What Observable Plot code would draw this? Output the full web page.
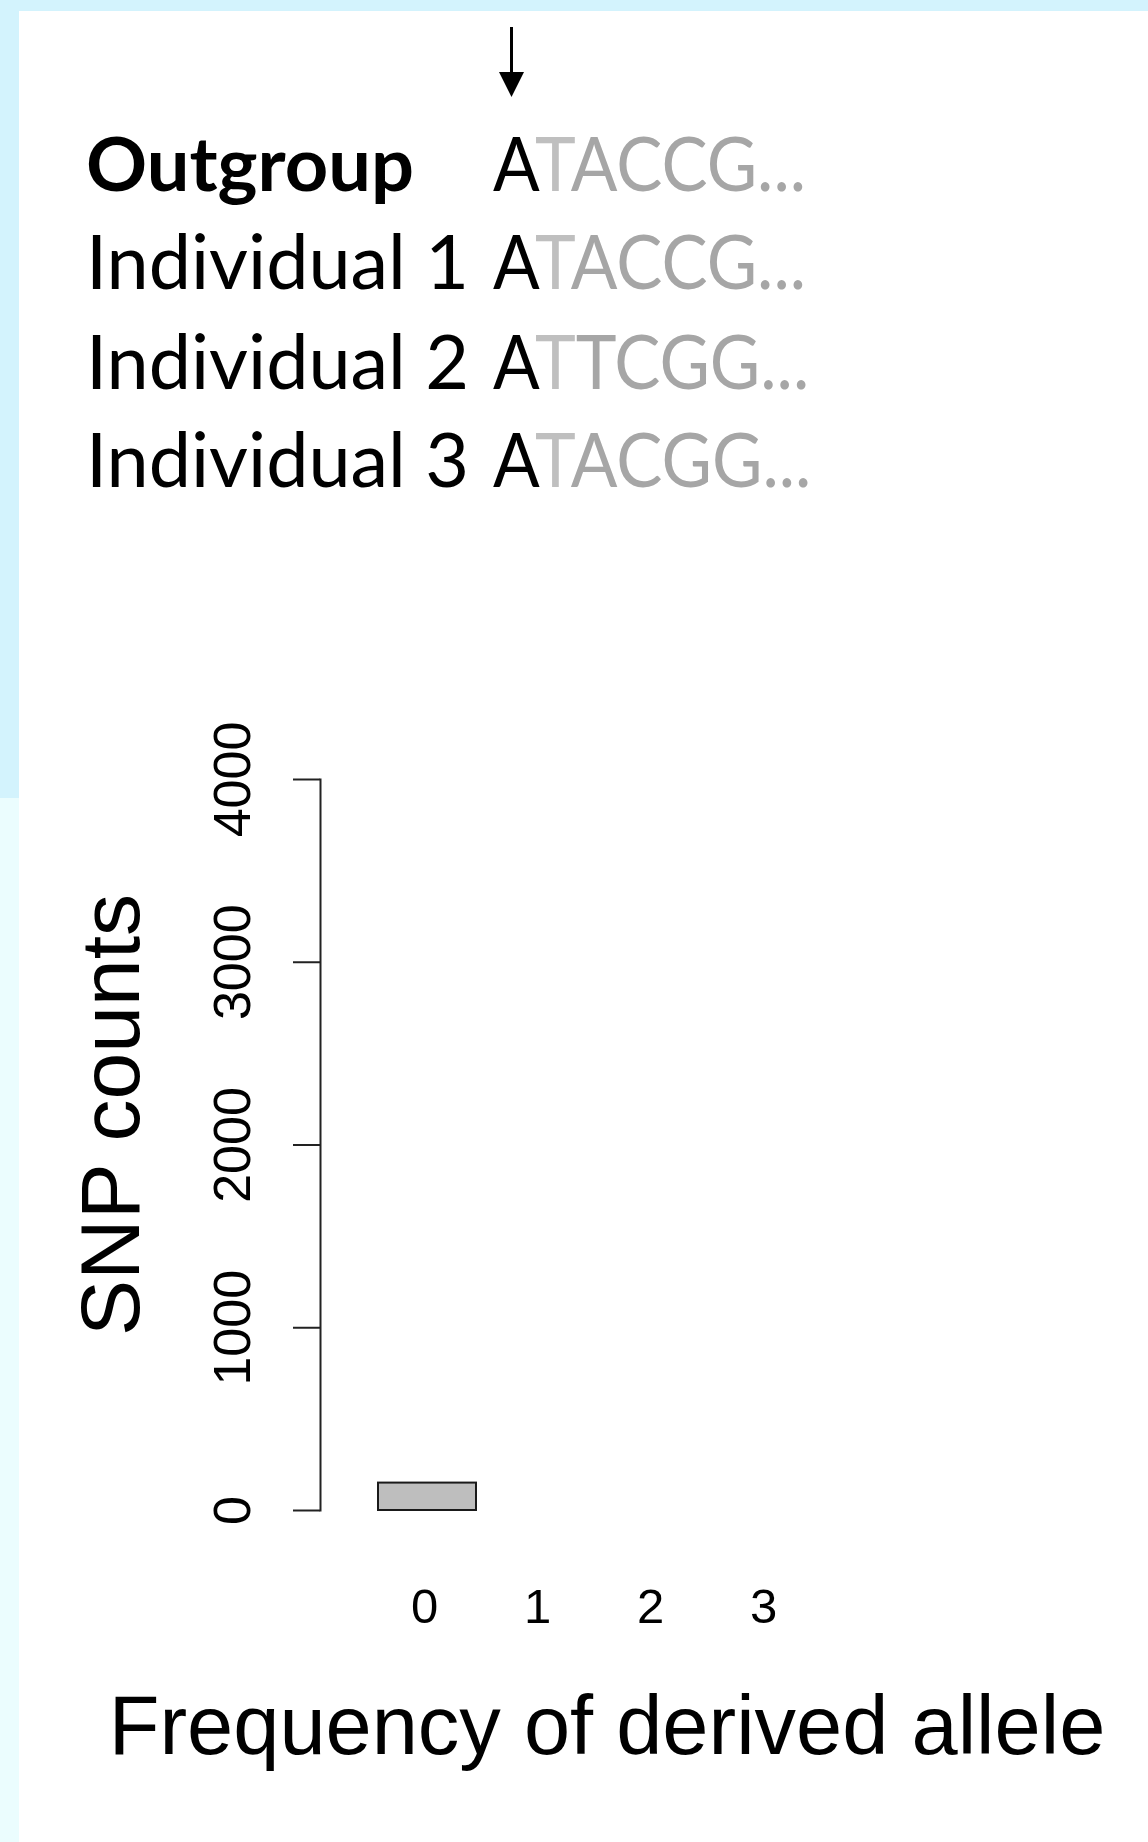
<!DOCTYPE html>
<html>
<head>
<meta charset="utf-8">
<script src="https://cdn.jsdelivr.net/npm/d3@7"></script>
<script src="https://cdn.jsdelivr.net/npm/@observablehq/plot@0.6"></script>
<style>
html, body { margin: 0; padding: 0; background: #fff; }
#page { position: relative; width: 1148px; height: 1842px; overflow: hidden; background: #fff; }
#topband { position: absolute; left: 0; top: 0; width: 1148px; height: 11px; background: #d3f3fd; }
#leftTop { position: absolute; left: 0; top: 0; width: 19px; height: 798px; background: #d3f3fd; }
#leftBottom { position: absolute; left: 0; top: 798px; width: 19px; height: 1044px; background: #ebfdfe; }
#chart { position: absolute; left: 0; top: 700px; }
</style>
</head>
<body>
<div id="page">
  <div id="topband"></div>
  <div id="leftTop"></div>
  <div id="leftBottom"></div>
  <div id="chart"></div>
</div>
<script>
// ---- data ----
const rowLabels = ["Outgroup", "Individual 1", "Individual 2", "Individual 3"];
const sequences = ["ATACCG...", "ATACCG...", "ATTCGG...", "ATACGG..."];
const freqClasses = ["0", "1", "2", "3"];
const snpCounts = [150, 0, 0, 0];
const yTicks = [0, 1000, 2000, 3000, 4000];
const yLabel = "SNP counts";
const xLabel = "Frequency of derived allele";

// ---- layout constants ----
const baselines = [191, 289, 389, 487];
const labelWidths = [328, 383, 383, 383];
const seqFont = "Lato, 'Open Sans', sans-serif";

// ---- header (sequence alignment) ----
const head = d3.select("#page").append("svg")
  .attr("width", 1148).attr("height", 700)
  .style("position", "absolute").style("left", "0px").style("top", "0px");
head.append("defs").append("clipPath").attr("id", "seqclip")
  .append("rect").attr("x", 0).attr("y", 0).attr("width", 810).attr("height", 700);

head.append("line").attr("x1", 511.5).attr("x2", 511.5).attr("y1", 27).attr("y2", 78)
  .attr("stroke", "#000").attr("stroke-width", 3);
head.append("path").attr("d", "M499,72L524,72L511.5,97Z").attr("fill", "#000");

rowLabels.forEach((lab, i) => {
  head.append("text")
    .attr("x", 86).attr("y", baselines[i])
    .attr("font-family", seqFont).attr("font-size", 75)
    .attr("font-weight", i === 0 ? 700 : 400)
    .attr("textLength", labelWidths[i]).attr("lengthAdjust", "spacingAndGlyphs")
    .attr("fill", "#000").text(lab);
});

const seqG = head.append("g").attr("clip-path", "url(#seqclip)");
const seqTexts = sequences.map((s, i) => {
  const t = seqG.append("text")
    .attr("x", 493).attr("y", baselines[i])
    .attr("font-family", seqFont).attr("font-size", 75)
    .attr("letter-spacing", 0);
  t.append("tspan").attr("fill", "#000").text(s[0]);
  t.append("tspan").attr("fill", "#bfbfbf").text(s[1]);
  t.append("tspan").attr("fill", "#a6a6a6").text(s.slice(2));
  return t;
});
const w0 = seqTexts[0].node().getComputedTextLength();
const k = w0 > 0 ? 313 / w0 : 1;
seqTexts.forEach(t => {
  const w = t.node().getComputedTextLength();
  if (w > 0) t.attr("textLength", w * k).attr("lengthAdjust", "spacingAndGlyphs");
});

// ---- chart ----
const data = freqClasses.map((f, i) => ({freq: f, count: snpCounts[i]}));
const chart = Plot.plot({
  width: 1148,
  height: 1142,
  marginTop: 79,
  marginBottom: 332,
  marginLeft: 320,
  marginRight: 255,
  style: {background: "transparent", fontFamily: "'Liberation Sans', Arial, sans-serif", color: "#000"},
  x: {type: "band", domain: freqClasses, range: [361.6, 832.4], padding: 0.13},
  y: {domain: [0, 4000]},
  marks: [
    Plot.frame({anchor: "left", stroke: "#222", strokeWidth: 2}),
    Plot.axisY({ticks: yTicks, tickSize: 27, tickRotate: -90, tickPadding: 44, fontSize: 52,
      tickFormat: d => String(d), label: null, stroke: "#222", strokeWidth: 2}),
    Plot.axisX({tickSize: 0, tickPadding: 78, fontSize: 49, label: null, dx: -3}),
    Plot.barY(data, {x: "freq", y: "count", fill: "#bebebe", stroke: "#1a1a1a", strokeWidth: 2,
      filter: d => d.count > 0}),
    Plot.text([yLabel], {text: d => d, frameAnchor: "left", textAnchor: "middle", lineAnchor: "middle",
      rotate: -90, dx: -208, dy: -30, fontSize: 84}),
    Plot.text([xLabel], {text: d => d, frameAnchor: "bottom", textAnchor: "middle", lineAnchor: "middle",
      dy: 217, fontSize: 83})
  ]
});
document.getElementById("chart").appendChild(chart);
</script>
</body>
</html>
